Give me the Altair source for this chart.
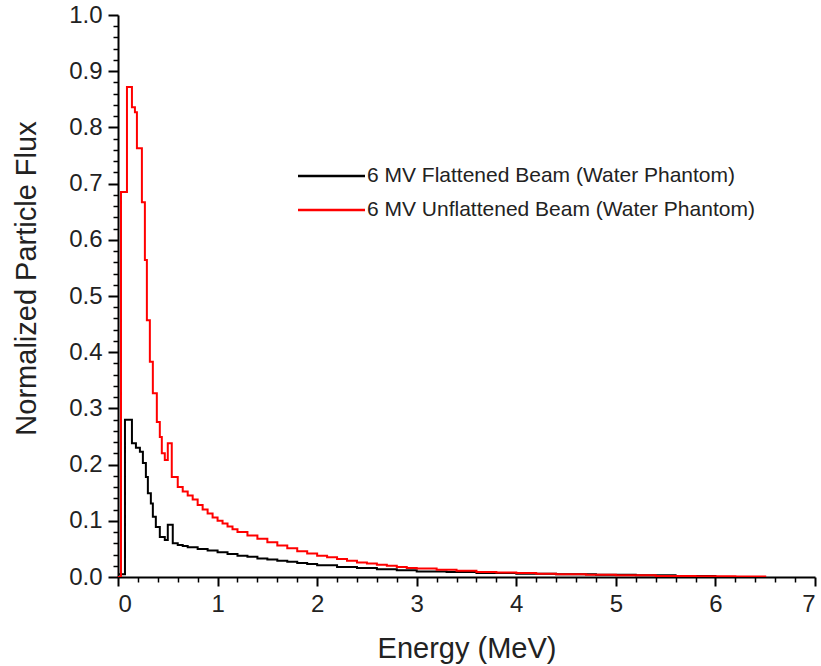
import altair as alt
import pandas as pd

series_names = ["6 MV Flattened Beam (Water Phantom)", "6 MV Unflattened Beam (Water Phantom)"]
series_colors = ["#000000", "#ff0000"]

flat_x = [0.00, 0.07, 0.14, 0.18, 0.22, 0.25, 0.28, 0.30, 0.33, 0.35, 0.38, 0.42, 0.47, 0.50,
          0.55, 0.60, 0.65, 0.70, 0.80, 0.90, 1.00, 1.10, 1.20, 1.30, 1.40, 1.50, 1.60, 1.70,
          1.80, 1.90, 2.00, 2.20, 2.40, 2.60, 2.80, 3.00, 3.30, 3.60, 4.00, 4.40, 4.80, 5.20,
          5.60, 6.00]
flat_y = [0.005, 0.280, 0.238, 0.230, 0.223, 0.203, 0.178, 0.149, 0.131, 0.107, 0.089, 0.071,
          0.066, 0.093, 0.060, 0.057, 0.055, 0.053, 0.050, 0.047, 0.044, 0.041, 0.038, 0.036,
          0.033, 0.031, 0.029, 0.027, 0.025, 0.023, 0.021, 0.018, 0.016, 0.014, 0.012, 0.010,
          0.009, 0.007, 0.006, 0.005, 0.004, 0.003, 0.002, 0.000]

unflat_x = [0.00, 0.03, 0.09, 0.14, 0.17, 0.19, 0.24, 0.27, 0.29, 0.32, 0.35, 0.39, 0.42, 0.44,
            0.47, 0.50, 0.54, 0.60, 0.65, 0.70, 0.75, 0.80, 0.85, 0.90, 0.95, 1.00, 1.05, 1.10,
            1.15, 1.20, 1.30, 1.40, 1.50, 1.60, 1.70, 1.80, 1.90, 2.00, 2.10, 2.20, 2.30, 2.40,
            2.50, 2.60, 2.70, 2.80, 2.90, 3.00, 3.20, 3.40, 3.60, 3.80, 4.00, 4.20, 4.40, 4.70,
            5.00, 5.40, 5.80, 6.20, 6.50]
unflat_y = [0.000, 0.685, 0.872, 0.836, 0.827, 0.763, 0.667, 0.564, 0.457, 0.383, 0.327, 0.276,
            0.249, 0.220, 0.208, 0.238, 0.178, 0.160, 0.152, 0.145, 0.138, 0.128, 0.120, 0.113,
            0.106, 0.100, 0.095, 0.090, 0.085, 0.080, 0.074, 0.068, 0.062, 0.056, 0.051, 0.046,
            0.042, 0.038, 0.035, 0.032, 0.029, 0.026, 0.024, 0.022, 0.020, 0.018, 0.016, 0.015,
            0.013, 0.011, 0.009, 0.008, 0.007, 0.006, 0.005, 0.004, 0.003, 0.002, 0.0015, 0.001,
            0.000]

x_major = [0, 1, 2, 3, 4, 5, 6, 7]
x_minor = [round(i * 0.2, 2) for i in range(36) if i % 5 != 0]
y_major = [round(i * 0.1, 1) for i in range(11)]
y_minor = [round(i * 0.02, 2) for i in range(51) if i % 5 != 0]

df = pd.concat([
    pd.DataFrame({"energy": flat_x, "flux": flat_y, "series": series_names[0]}),
    pd.DataFrame({"energy": unflat_x, "flux": unflat_y, "series": series_names[1]}),
])

FONT = "Liberation Sans"
xscale = alt.Scale(domain=[0, 7], nice=False, zero=False)
yscale = alt.Scale(domain=[0, 1], nice=False)

lines = alt.Chart(df).mark_line(interpolate="step-after", strokeWidth=2, clip=True).encode(
    x=alt.X("energy:Q", scale=xscale,
            axis=alt.Axis(values=x_major, format="d", title="Energy (MeV)", orient="bottom",
                          tickSize=9, tickWidth=2, labelPadding=6, titlePadding=18)),
    y=alt.Y("flux:Q", scale=yscale,
            axis=alt.Axis(values=y_major, format=".1f", title="Normalized Particle Flux",
                          orient="left", tickSize=10, tickWidth=2, labelPadding=6, titlePadding=27,
                          titleY=263)),
    color=alt.Color("series:N", scale=alt.Scale(domain=series_names, range=series_colors), legend=None),
)

minor = alt.Chart(df).mark_line(opacity=0).encode(
    x=alt.X("energy:Q", scale=xscale,
            axis=alt.Axis(values=x_minor, labels=False, title=None, domain=False, orient="bottom",
                          tickSize=5, tickWidth=1.5)),
    y=alt.Y("flux:Q", scale=yscale,
            axis=alt.Axis(values=y_minor, labels=False, title=None, domain=False, orient="left",
                          tickSize=5, tickWidth=1.5)),
)

legend_y = [161, 195]
legend_layers = []
for name, col, ly in zip(series_names, series_colors, legend_y):
    d = pd.DataFrame({"s": [name]})
    legend_layers.append(alt.Chart(d).mark_rule(color=col, strokeWidth=2.5).encode(
        x=alt.value(180), x2=alt.value(247), y=alt.value(ly)))
    legend_layers.append(alt.Chart(d).mark_text(align="left", baseline="middle", fontSize=21,
                                                font=FONT, color="#222222").encode(
        text="s:N", x=alt.value(249), y=alt.value(ly)))

chart = alt.layer(lines, minor, *legend_layers).resolve_axis(
    x="independent", y="independent"
).properties(
    width=697, height=562,
    autosize=alt.AutoSizeParams(type="none"),
    padding={"left": 118, "top": 15, "right": 6, "bottom": 89},
).configure_view(stroke=None).configure_axis(
    grid=False, domainColor="#000000", domainWidth=2, tickColor="#000000",
    labelFont=FONT, labelFontSize=24, labelColor="#222222",
    titleFont=FONT, titleFontSize=29, titleFontWeight="normal", titleColor="#222222",
)

chart.save("out.html", embed_options={"renderer": "svg", "actions": False})
